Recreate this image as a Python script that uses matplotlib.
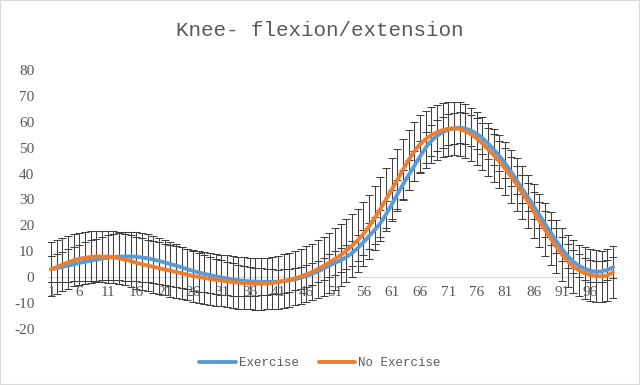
import matplotlib
matplotlib.use("Agg")
import matplotlib.pyplot as plt
import numpy as np
from matplotlib.patches import Rectangle

matplotlib.rcParams["axes.unicode_minus"] = False

TITLE = "Knee- flexion/extension"
SERIES_NAMES = ["Exercise", "No Exercise"]

# gait cycle points 1..100
POINTS = list(range(1, 101))
TICK_LABELS = [str(p) for p in range(1, 101, 5)]

EXERCISE = [
    3.0, 3.5, 4.0, 4.5, 5.0, 5.5, 6.0, 6.4, 6.8, 7.2,
    7.5, 7.7, 7.9, 8.0, 8.0, 7.9, 7.6, 7.3, 6.8, 6.3,
    5.7, 5.1, 4.5, 3.8, 3.1, 2.4, 1.8, 1.3, 0.8, 0.3,
    -0.1, -0.5, -0.9, -1.2, -1.4, -1.6, -1.7, -1.8, -1.8, -1.8,
    -1.7, -1.5, -1.2, -0.8, -0.2, 0.5, 1.3, 2.2, 3.3, 4.5,
    5.5, 6.5, 7.7, 9.3, 11.2, 13.4, 15.8, 18.2, 20.8, 24.2,
    28.0, 32.0, 35.8, 39.4, 43.0, 46.6, 50.0, 52.7, 54.6, 56.0,
    56.9, 57.5, 57.7, 57.4, 56.6, 55.4, 53.7, 51.6, 49.3, 46.8,
    44.0, 40.8, 37.5, 34.1, 30.9, 27.6, 24.1, 20.6, 17.3, 14.0,
    10.9, 8.2, 6.0, 4.4, 3.3, 2.5, 2.1, 2.2, 2.8, 3.8,
]

NO_EXERCISE = [
    3.0, 3.9, 4.8, 5.7, 6.5, 7.1, 7.5, 7.8, 8.0, 8.0,
    7.9, 7.7, 7.3, 6.8, 6.2, 5.6, 5.0, 4.5, 4.0, 3.5,
    3.0, 2.5, 2.0, 1.5, 1.0, 0.5, 0.1, -0.3, -0.7, -1.0,
    -1.3, -1.6, -1.9, -2.1, -2.3, -2.4, -2.5, -2.5, -2.4, -2.2,
    -1.9, -1.5, -1.0, -0.4, 0.3, 1.1, 2.0, 3.1, 4.3, 5.6,
    7.0, 8.5, 10.2, 12.1, 14.2, 16.6, 19.5, 22.8, 26.3, 30.0,
    33.8, 37.6, 41.5, 45.3, 48.6, 51.3, 53.3, 54.9, 56.0, 56.8,
    57.3, 57.5, 57.2, 56.4, 55.2, 53.6, 51.6, 49.4, 47.1, 44.6,
    41.9, 39.0, 35.9, 32.6, 29.1, 25.5, 21.9, 18.4, 15.0, 11.8,
    8.8, 6.2, 4.1, 2.6, 1.6, 0.9, 0.5, 0.3, 0.7, 1.9,
]

# standard deviations (error bars)
EXERCISE_SD = [
    5.0, 5.4, 5.8, 6.2, 6.6, 7.0, 7.4, 7.8, 8.1, 8.4,
    8.7, 8.9, 9.1, 9.3, 9.4, 9.4, 9.3, 9.2, 9.0, 8.8,
    8.6, 8.4, 8.2, 8.0, 7.8, 7.6, 7.4, 7.2, 7.0, 6.8,
    6.6, 6.4, 6.2, 6.0, 5.8, 5.6, 5.4, 5.2, 5.0, 4.8,
    4.6, 4.5, 4.4, 4.3, 4.2, 4.2, 4.2, 4.2, 4.3, 4.4,
    4.5, 4.6, 4.7, 4.8, 4.9, 5.0, 5.1, 5.2, 5.3, 5.4,
    5.5, 5.6, 5.7, 5.8, 5.9, 6.0, 6.0, 6.0, 6.0, 6.0,
    6.0, 6.0, 6.0, 6.0, 6.0, 6.0, 6.0, 6.0, 5.9, 5.8,
    5.7, 5.6, 5.5, 5.4, 5.3, 5.2, 5.1, 5.0, 4.9, 4.8,
    4.7, 4.6, 4.5, 4.4, 4.3, 4.2, 4.1, 4.0, 4.0, 4.0,
]

NO_EXERCISE_SD = [
    10.4, 10.3, 10.2, 10.1, 10.0, 10.0, 10.0, 10.0, 10.0, 10.0,
    10.0, 10.0, 10.0, 10.0, 10.0, 10.0, 10.0, 10.0, 10.0, 10.0,
    10.0, 10.0, 10.0, 10.0, 10.0, 10.0, 10.0, 10.0, 10.0, 10.0,
    10.0, 10.0, 10.0, 10.0, 10.0, 10.0, 10.0, 10.0, 10.0, 10.1,
    10.2, 10.3, 10.4, 10.5, 10.6, 10.8, 11.0, 11.2, 11.4, 11.6,
    11.8, 12.0, 12.1, 12.2, 12.3, 12.3, 12.3, 12.3, 12.3, 12.2,
    12.1, 12.0, 11.8, 11.6, 11.4, 11.2, 11.0, 10.8, 10.6, 10.5,
    10.4, 10.3, 10.3, 10.3, 10.3, 10.3, 10.3, 10.3, 10.3, 10.3,
    10.3, 10.3, 10.3, 10.3, 10.3, 10.3, 10.3, 10.2, 10.2, 10.2,
    10.1, 10.1, 10.1, 10.0, 10.0, 10.0, 10.0, 10.0, 10.0, 10.0,
]

BLUE = "#5B9BD5"
ORANGE = "#ED7D31"
TEXT = "#595959"
GRID = "#D9D9D9"

fig = plt.figure(figsize=(6.4, 3.85), dpi=100)
ax = fig.add_axes([0.0753, 0.1455, 0.887, 0.6727])

x = np.array(POINTS)
for vals, sd in [(EXERCISE, EXERCISE_SD), (NO_EXERCISE, NO_EXERCISE_SD)]:
    ax.errorbar(x, vals, yerr=sd, fmt="none", ecolor="#404040",
                elinewidth=0.75, capsize=2.7, capthick=0.75, zorder=1)

ax.plot(x, EXERCISE, color=BLUE, lw=2.8, label=SERIES_NAMES[0], zorder=3,
        solid_capstyle="round")
ax.plot(x, NO_EXERCISE, color=ORANGE, lw=2.8, label=SERIES_NAMES[1], zorder=4,
        solid_capstyle="round")

ax.set_xlim(0.5, 100.5)
ax.set_ylim(-20, 80)
ax.set_yticks(range(-20, 81, 10))
ax.set_xticks(range(1, 101, 5))
ax.set_xticklabels(TICK_LABELS)

for side in ["top", "right", "left"]:
    ax.spines[side].set_visible(False)
ax.spines["bottom"].set_position(("data", 0))
ax.spines["bottom"].set_color(GRID)
ax.spines["bottom"].set_linewidth(0.8)
ax.spines["bottom"].set_zorder(0)

ax.tick_params(axis="both", length=0, colors=TEXT)
ax.tick_params(axis="y", pad=10)
ax.tick_params(axis="x", pad=6)
for lab in ax.get_xticklabels() + ax.get_yticklabels():
    lab.set_fontfamily("Liberation Serif")
    lab.set_fontsize(11)
    lab.set_color(TEXT)

fig.text(0.5, 1 - 31 / 385, TITLE, ha="center", va="center",
         family="Liberation Mono", fontsize=15, color=TEXT)

leg = fig.legend(loc="center", bbox_to_anchor=(0.5, 1 - 363 / 385), ncol=2,
                 frameon=False, handlelength=2.9, handletextpad=0.25,
                 columnspacing=1.6, prop={"family": "Liberation Mono", "size": 9})
for t in leg.get_texts():
    t.set_color(TEXT)

fig.add_artist(Rectangle((0, 0), 1, 1, transform=fig.transFigure,
                         fill=False, edgecolor=GRID, lw=1.5))

fig.savefig("out.png", dpi=100)
